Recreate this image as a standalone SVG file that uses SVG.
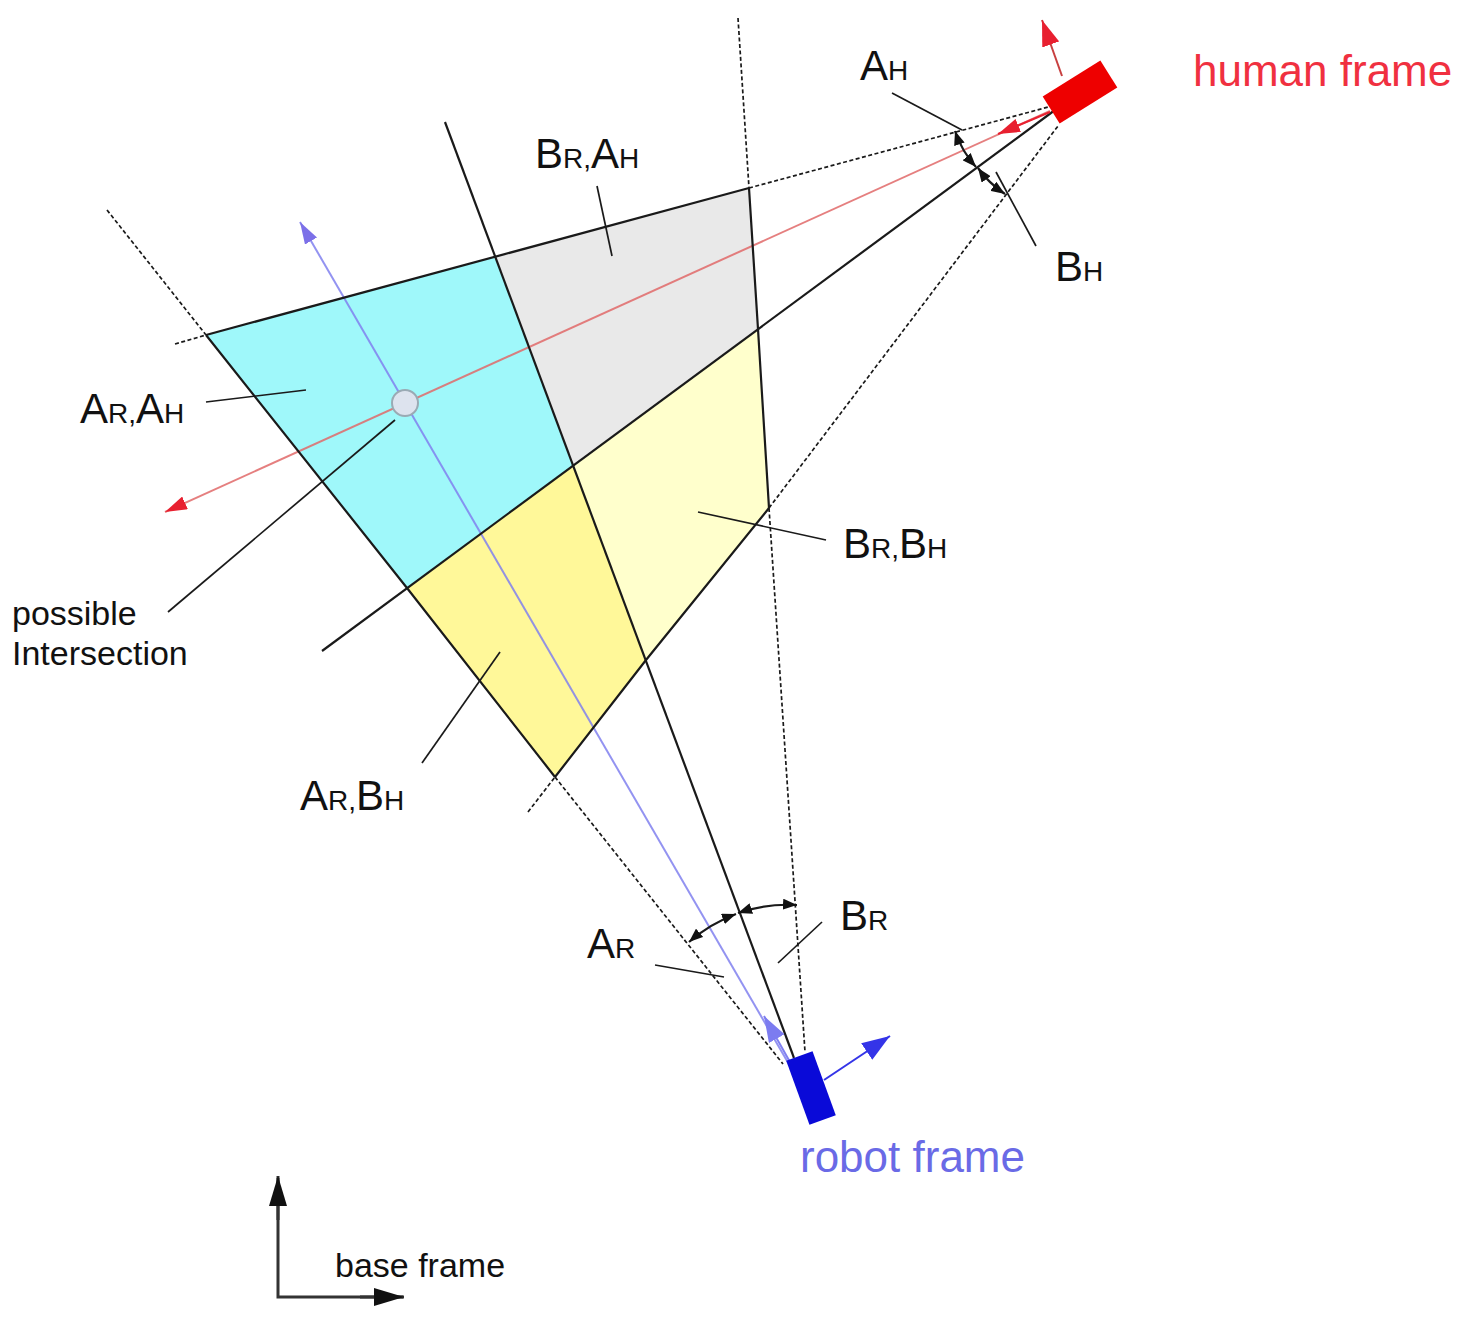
<svg xmlns="http://www.w3.org/2000/svg" width="1477" height="1331" viewBox="0 0 1477 1331">
<defs>
<style>
text{font-family:"Liberation Sans",Arial,sans-serif;fill:#111}
.lbl{font-size:42px}
.sub{font-size:28px}
.solid{stroke:#1a1a1a;stroke-width:2.2;fill:none}
.dash{stroke:#1a1a1a;stroke-width:1.7;fill:none;stroke-dasharray:4 2.5}
.lead{stroke:#1a1a1a;stroke-width:1.7;fill:none}
.arc{stroke:#1a1a1a;stroke-width:2.2;fill:none;marker-start:url(#ah);marker-end:url(#ah)}
</style>
<marker id="ah" viewBox="0 0 14 11" refX="14" refY="5.5" markerWidth="14" markerHeight="11" markerUnits="userSpaceOnUse" orient="auto-start-reverse"><path d="M0,0 L14,5.5 L0,11 z" fill="#111"/></marker>
<marker id="redArrow" viewBox="0 0 22 14" refX="22" refY="7" markerWidth="22" markerHeight="14" markerUnits="userSpaceOnUse" orient="auto"><path d="M0,0 L22,7 L0,14 z" fill="#e82030"/></marker>
<marker id="redBig" viewBox="0 0 26 18" refX="26" refY="9" markerWidth="26" markerHeight="18" markerUnits="userSpaceOnUse" orient="auto"><path d="M0,0 L26,9 L0,18 z" fill="#e82030"/></marker>
<marker id="lavArrow" viewBox="0 0 22 14" refX="22" refY="7" markerWidth="22" markerHeight="14" markerUnits="userSpaceOnUse" orient="auto"><path d="M0,0 L22,7 L0,14 z" fill="#7c70e8"/></marker>
<marker id="lavBig" viewBox="0 0 26 18" refX="26" refY="9" markerWidth="26" markerHeight="18" markerUnits="userSpaceOnUse" orient="auto"><path d="M0,0 L26,9 L0,18 z" fill="#7c7cf0"/></marker>
<marker id="blueArrow" viewBox="0 0 28 20" refX="28" refY="10" markerWidth="28" markerHeight="20" markerUnits="userSpaceOnUse" orient="auto"><path d="M0,0 L28,10 L0,20 z" fill="#3434e8"/></marker>
<marker id="blackArrow" viewBox="0 0 30 18" refX="30" refY="9" markerWidth="30" markerHeight="18" markerUnits="userSpaceOnUse" orient="auto"><path d="M0,0 L30,9 L0,18 z" fill="#111"/></marker>
</defs>
<rect width="1477" height="1331" fill="#fff"/>

<g id="regions">
<polygon id="region-ar-ah" points="206,335 496,257 573,466 407,588" fill="#9ff8fa"/>
<polygon id="region-br-ah" points="496,257 749,188 758,329 573,466" fill="#e9e9e9"/>
<polygon id="region-br-bh" points="573,466 758,329 769,508 646,660" fill="#ffffcc"/>
<polygon id="region-ar-bh" points="407,588 573,466 646,660 555,777" fill="#fff899"/>
</g>

<g id="connectors">
<line x1="790" y1="1066" x2="300" y2="222" stroke="#8080ee" stroke-width="2" stroke-opacity="0.85" marker-end="url(#lavArrow)"/>
<line x1="1050" y1="111" x2="165" y2="512" stroke="#e06868" stroke-width="2" stroke-opacity="0.85" marker-end="url(#redArrow)"/>

<line class="dash" x1="175" y1="344" x2="206" y2="335"/>
<line class="solid" x1="206" y1="335" x2="749" y2="188"/>
<line class="dash" x1="749" y1="188" x2="1052" y2="106"/>
<line class="solid" x1="322" y1="651" x2="1055" y2="110"/>
<line class="dash" x1="528" y1="812" x2="555" y2="777"/>
<polyline class="solid" points="555,777 646,660 769,508"/>
<line class="dash" x1="769" y1="508" x2="1058" y2="126"/>
<line class="dash" x1="107" y1="210" x2="206" y2="335"/>
<polyline class="solid" points="206,335 407,588 555,777"/>
<line class="dash" x1="555" y1="777" x2="783" y2="1064"/>
<line class="solid" x1="445" y1="122" x2="794" y2="1058"/>
<line class="dash" x1="738" y1="18" x2="749" y2="188"/>
<polyline class="solid" points="749,188 758,329 769,508"/>
<line class="dash" x1="769" y1="508" x2="805" y2="1052"/>

<path class="arc" d="M689,942 A155,155 0 0,1 736,914"/>
<path class="arc" d="M738,913 A155,155 0 0,1 797,905"/>
<path class="arc" d="M955,131 A101,101 0 0,0 976,167"/>
<path class="arc" d="M978,168 A101,101 0 0,0 1005,194"/>

<line class="lead" x1="892" y1="93" x2="962" y2="130"/>
<line class="lead" x1="996" y1="172" x2="1036" y2="246"/>
<line class="lead" x1="597" y1="186" x2="612" y2="256"/>
<line class="lead" x1="206" y1="402" x2="306" y2="390"/>
<line class="lead" x1="168" y1="612" x2="395" y2="420"/>
<line class="lead" x1="698" y1="512" x2="826" y2="540"/>
<line class="lead" x1="422" y1="763" x2="500" y2="652"/>
<line class="lead" x1="655" y1="965" x2="724" y2="977"/>
<line class="lead" x1="822" y1="922" x2="778" y2="963"/>
</g>

<g id="intersection-point">
<circle cx="405" cy="403" r="13" fill="#dde3ee" stroke="#9aaab4" stroke-width="2"/>
</g>

<g id="human-frame">
<line x1="1050" y1="112" x2="998" y2="134" stroke="#e82030" stroke-width="2" marker-end="url(#redArrow)"/>
<line x1="1062" y1="76" x2="1042" y2="20" stroke="#c84040" stroke-width="2" marker-end="url(#redBig)"/>
<rect x="-34" y="-16" width="68" height="32" fill="#ee0000" transform="translate(1080,92) rotate(-32)"/>
<text x="1193" y="86" style="font-size:44px;fill:#f03040">human frame</text>
</g>

<g id="robot-frame">
<line x1="790" y1="1062" x2="764" y2="1016" stroke="#8080f0" stroke-width="2" marker-end="url(#lavBig)"/>
<rect x="-14" y="-34" width="28" height="68" fill="#0a0ad8" transform="translate(811,1088) rotate(-20)"/>
<line x1="824" y1="1080" x2="890" y2="1036" stroke="#3434e8" stroke-width="2" marker-end="url(#blueArrow)"/>
<text x="800" y="1172" style="font-size:44px;fill:#6a6ae6">robot frame</text>
</g>

<g id="base-frame">
<polyline points="278,1178 278,1297 403,1297" fill="none" stroke="#333" stroke-width="3"/>
<line x1="278" y1="1220" x2="278" y2="1176" stroke="#333" stroke-width="3" marker-end="url(#blackArrow)"/>
<line x1="360" y1="1297" x2="404" y2="1297" stroke="#333" stroke-width="3" marker-end="url(#blackArrow)"/>
<text x="335" y="1277" style="font-size:34px">base frame</text>
</g>

<g id="labels">
<text class="lbl" x="860" y="80">A<tspan class="sub">H</tspan></text>
<text class="lbl" x="1055" y="281">B<tspan class="sub">H</tspan></text>
<text class="lbl" x="535" y="168">B<tspan class="sub">R,</tspan>A<tspan class="sub">H</tspan></text>
<text class="lbl" x="80" y="423">A<tspan class="sub">R,</tspan>A<tspan class="sub">H</tspan></text>
<text class="lbl" x="843" y="558">B<tspan class="sub">R,</tspan>B<tspan class="sub">H</tspan></text>
<text class="lbl" x="300" y="810">A<tspan class="sub">R,</tspan>B<tspan class="sub">H</tspan></text>
<text class="lbl" x="587" y="958">A<tspan class="sub">R</tspan></text>
<text class="lbl" x="840" y="930">B<tspan class="sub">R</tspan></text>
<text x="12" y="625" style="font-size:34px">possible</text>
<text x="12" y="665" style="font-size:34px">Intersection</text>
</g>
</svg>
